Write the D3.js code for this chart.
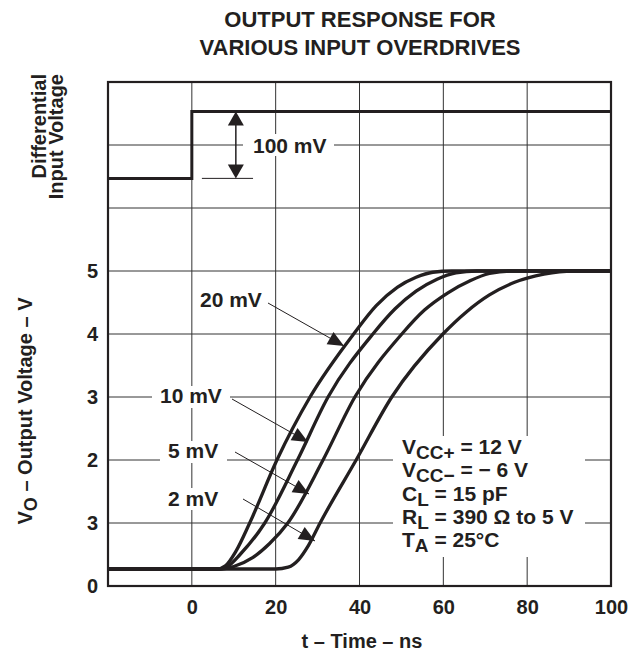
<!DOCTYPE html>
<html>
<head>
<meta charset="utf-8">
<script src="https://cdn.jsdelivr.net/npm/d3@7/dist/d3.min.js"></script>
<style>
  body { margin: 0; background: #fff; }
  text { font-family: "Liberation Sans", Arial, sans-serif; font-weight: bold; fill: #231f20; }
</style>
</head>
<body>
<svg id="chart" width="642" height="656"></svg>
<script>
// time axis (ns) and output voltage (V)
const xTicks = [0, 20, 40, 60, 80, 100];
const yTicks = [0, 1, 2, 3, 4, 5];
const yTickLabels = ["0", "3", "2", "3", "4", "5"];   // as printed on the original sheet
const xGrid = [0, 20, 40, 60, 80];
const yGrid = [1, 2, 3, 4, 5, 6, 7];

// differential input step, [t ns, mV]
const inputStep = [[-20, 0], [0, 0], [0, 100], [100, 100]];

// output response for each overdrive, [t ns, V]
const overdrives = ["20 mV", "10 mV", "5 mV", "2 mV"];
const vo20 = [[-20, 0.27], [6, 0.27], [8, 0.32], [10.5, 0.55], [13.8, 1], [20.3, 2], [28.2, 3], [38.6, 4], [44, 4.45], [49, 4.74], [53.5, 4.9], [57.5, 4.98], [62, 5], [100, 5]];
const vo10 = [[-20, 0.27], [6.5, 0.27], [8.5, 0.31], [11.5, 0.5], [17.4, 1], [25.2, 2], [32.5, 3], [43.2, 4], [48.5, 4.4], [53.5, 4.68], [58.5, 4.87], [63, 4.97], [68, 5], [100, 5]];
const vo5 = [[-20, 0.27], [7, 0.27], [10, 0.31], [14.5, 0.45], [18.5, 0.67], [22.9, 1], [31.3, 2], [38.9, 3], [50.1, 4], [55.5, 4.38], [61, 4.65], [66.5, 4.85], [71, 4.96], [76, 5], [100, 5]];
const vo2 = [[-20, 0.27], [20, 0.27], [23, 0.3], [25.5, 0.42], [27.8, 0.64], [30.6, 1], [39.2, 2], [47.7, 3], [59.9, 4], [65.5, 4.35], [71, 4.62], [77, 4.82], [84, 4.95], [91, 5], [100, 5]];
const responses = [vo20, vo10, vo5, vo2];

// test conditions: [symbol, subscript, rest]
const conditions = [
  ["V", "CC+", " = 12 V"],
  ["V", "CC\u2212", " = \u2212 6 V"],
  ["C", "L", " = 15 pF"],
  ["R", "L", " = 390 \u03A9 to 5 V"],
  ["T", "A", " = 25\u00B0C"]
];

const svg = d3.select("#chart");

const x = d3.scaleLinear().domain([-20, 100]).range([108, 611]);
const y = d3.scaleLinear().domain([0, 8]).range([586, 82]);
// input step lives in the upper three divisions
const yIn = d3.scaleLinear().domain([0, 100]).range([y(6.47), y(7.53)]);

// grid
const grid = svg.append("g").attr("stroke", "#333").attr("stroke-width", 1);
grid.selectAll("line.v").data(xGrid).enter().append("line")
  .attr("x1", d => x(d)).attr("x2", d => x(d))
  .attr("y1", y(8)).attr("y2", y(0));
grid.selectAll("line.h").data(yGrid).enter().append("line")
  .attr("x1", x(-20)).attr("x2", x(100))
  .attr("y1", d => y(d)).attr("y2", d => y(d));

// white boxes that knock the grid out behind the labels
const knock = [
  [243, 134, 91, 22],   // 100 mV
  [152, 386, 78, 22],   // 10 mV
  [160, 441, 67, 22],   // 5 mV
  [162, 488, 62, 22],   // 2 mV
  [393, 436, 192, 121]  // conditions
];
svg.append("g").selectAll("rect").data(knock).enter().append("rect")
  .attr("x", d => d[0]).attr("y", d => d[1])
  .attr("width", d => d[2]).attr("height", d => d[3])
  .attr("fill", "#fff");

// frame
svg.append("rect")
  .attr("x", x(-20)).attr("y", y(8))
  .attr("width", x(100) - x(-20)).attr("height", y(0) - y(8))
  .attr("fill", "none").attr("stroke", "#231f20").attr("stroke-width", 2.2);

// input step
svg.append("path")
  .datum(inputStep)
  .attr("d", d3.line().x(d => x(d[0])).y(d => yIn(d[1])))
  .attr("fill", "none").attr("stroke", "#231f20").attr("stroke-width", 3);

// output curves
const line = d3.line().x(d => x(d[0])).y(d => y(d[1])).curve(d3.curveMonotoneX);
svg.append("g").selectAll("path").data(responses).enter().append("path")
  .attr("d", line)
  .attr("fill", "none").attr("stroke", "#231f20").attr("stroke-width", 3.3)
  .attr("stroke-linejoin", "round");

//
// helpers
//
function arrowHead(g, x1, y1, x2, y2, len, half) {
  const a = Math.atan2(y2 - y1, x2 - x1);
  const bx = x2 - len * Math.cos(a), by = y2 - len * Math.sin(a);
  const px = -Math.sin(a) * half, py = Math.cos(a) * half;
  g.append("path")
    .attr("d", `M${x2},${y2}L${bx + px},${by + py}L${bx - px},${by - py}Z`)
    .attr("fill", "#231f20");
}

// 100 mV dimension arrow
const dim = svg.append("g");
dim.append("line")
  .attr("x1", x(2.4)).attr("x2", x(14.6))
  .attr("y1", yIn(0)).attr("y2", yIn(0))
  .attr("stroke", "#231f20").attr("stroke-width", 1);
dim.append("line")
  .attr("x1", x(10.5)).attr("x2", x(10.5))
  .attr("y1", yIn(100) + 8).attr("y2", yIn(0) - 8)
  .attr("stroke", "#231f20").attr("stroke-width", 1.5);
arrowHead(dim, x(10.5), yIn(50), x(10.5), yIn(100), 14, 8);
arrowHead(dim, x(10.5), yIn(50), x(10.5), yIn(0), 14, 8);
dim.append("text")
  .attr("x", 253).attr("y", y(7) + 7.5)
  .attr("font-size", 21)
  .text("100 mV");

// overdrive call-outs: label position, leader start, arrow tip
const callouts = [
  { tx: 200, ty: 307, x1: 268, y1: 303, x2: 344, y2: 346 },
  { tx: 160, ty: 403, x1: 232, y1: 399, x2: 308, y2: 442 },
  { tx: 168, ty: 458, x1: 235, y1: 452, x2: 309, y2: 494 },
  { tx: 168, ty: 506, x1: 243, y1: 499, x2: 315, y2: 541 }
];
const notes = svg.append("g");
callouts.forEach((c, i) => {
  notes.append("text").attr("x", c.tx).attr("y", c.ty).attr("font-size", 21).text(overdrives[i]);
  notes.append("line")
    .attr("x1", c.x1).attr("y1", c.y1).attr("x2", c.x2).attr("y2", c.y2)
    .attr("stroke", "#231f20").attr("stroke-width", 1);
  arrowHead(notes, c.x1, c.y1, c.x2, c.y2, 16, 7);
});

// conditions block
const cond = svg.append("g");
conditions.forEach((c, i) => {
  const t = cond.append("text")
    .attr("x", 402).attr("y", 454 + i * 23.3)
    .attr("font-size", 21);
  t.append("tspan").text(c[0]);
  t.append("tspan").attr("dy", 5).attr("font-size", 19).text(c[1]);
  t.append("tspan").attr("dy", -5).text(c[2]);
});

// tick labels
svg.append("g")
  .attr("transform", `translate(${x(-20)},0)`)
  .call(d3.axisLeft(y).tickValues(yTicks).tickSize(0).tickPadding(10)
    .tickFormat((d, i) => yTickLabels[i]))
  .call(g => g.select(".domain").remove())
  .selectAll("text")
  .attr("font-size", 20).attr("font-family", null).attr("fill", null);

svg.append("g")
  .attr("transform", `translate(0,${y(0)})`)
  .call(d3.axisBottom(x).tickValues(xTicks).tickSize(0).tickPadding(14)
    .tickFormat(d3.format("d")))
  .call(g => g.select(".domain").remove())
  .selectAll("text")
  .attr("font-size", 20).attr("font-family", null).attr("fill", null);

// axis titles
svg.append("text")
  .attr("x", 362).attr("y", 648)
  .attr("text-anchor", "middle").attr("font-size", 20)
  .text("t \u2013 Time \u2013 ns");

const yTitle = svg.append("text")
  .attr("transform", "translate(32,411) rotate(-90)")
  .attr("text-anchor", "middle").attr("font-size", 20);
yTitle.append("tspan").text("V");
yTitle.append("tspan").attr("dy", 5).attr("font-size", 18).text("O");
yTitle.append("tspan").attr("dy", -5).text(" \u2013 Output Voltage \u2013 V");

svg.append("text")
  .attr("transform", "translate(46,74) rotate(-90)")
  .attr("text-anchor", "end").attr("font-size", 20)
  .text("Differential");
svg.append("text")
  .attr("transform", "translate(63,74) rotate(-90)")
  .attr("text-anchor", "end").attr("font-size", 20)
  .text("Input Voltage");

// title
svg.append("text")
  .attr("x", 360).attr("y", 27)
  .attr("text-anchor", "middle").attr("font-size", 22)
  .text("OUTPUT RESPONSE FOR");
svg.append("text")
  .attr("x", 360).attr("y", 55)
  .attr("text-anchor", "middle").attr("font-size", 22)
  .text("VARIOUS INPUT OVERDRIVES");
</script>
</body>
</html>
